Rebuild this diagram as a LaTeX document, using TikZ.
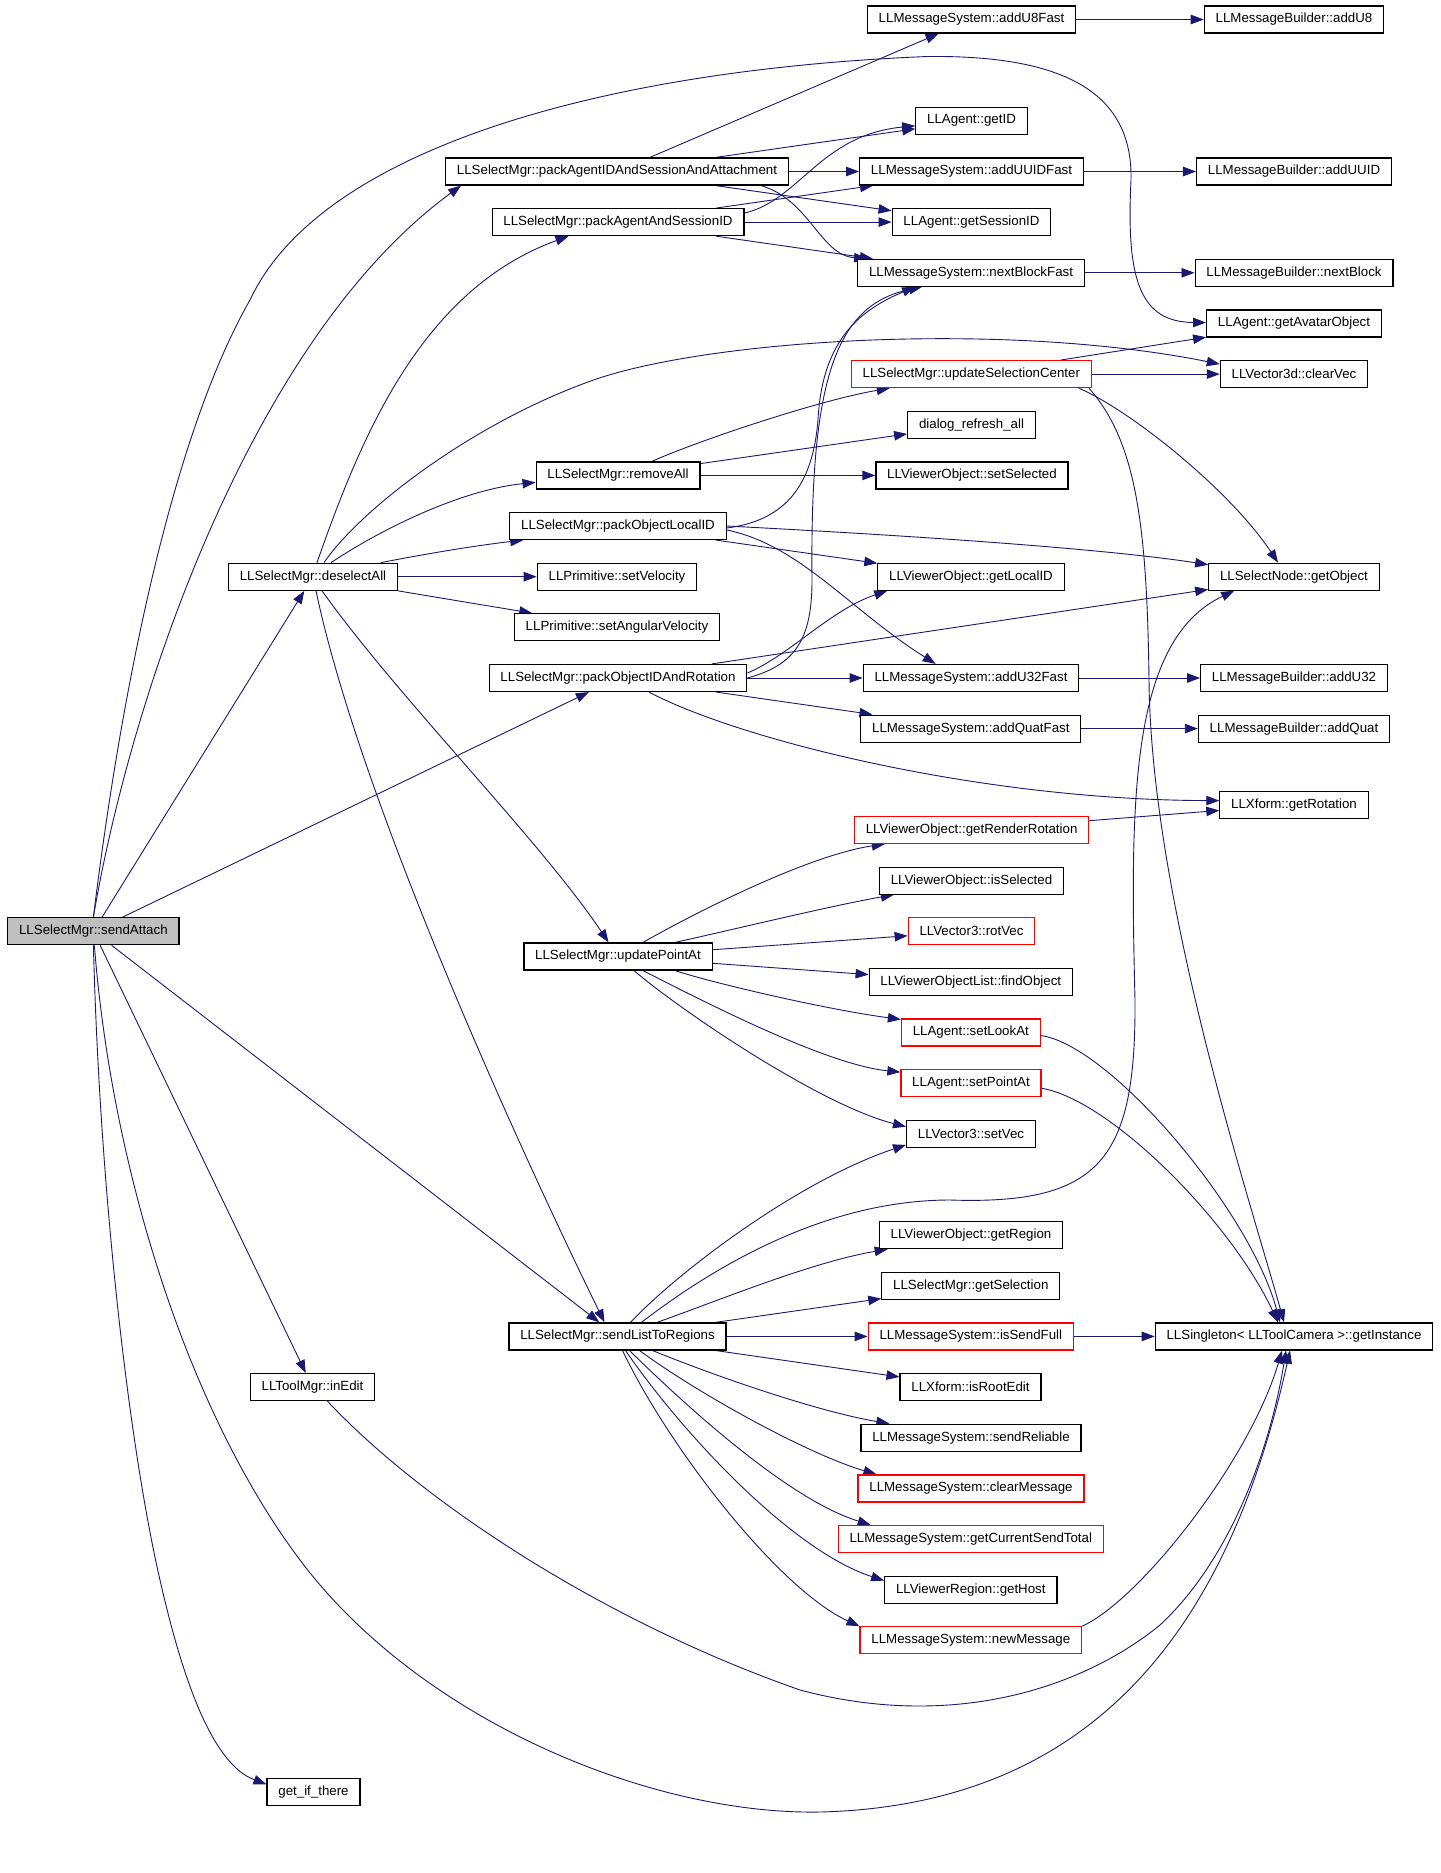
\documentclass[tikz,border=0pt]{standalone}
\usepackage{fontspec}
\usepackage{tikz}
\usetikzlibrary{arrows.meta}
\pgfdeclarelayer{background}
\pgfsetlayers{background,main}
\newfontfamily\callfont{Liberation Sans}
\definecolor{edgeblue}{HTML}{191970}
\definecolor{rootgray}{HTML}{BFBFBF}
\tikzset{
  fn/.style={draw=black, fill=white, line width=1.2pt, font=\callfont\fontsize{13.3}{16}\selectfont, minimum height=27pt, inner xsep=11.3pt, inner ysep=0pt},
  hot/.style={draw=red},
  root/.style={fill=rootgray},
  call/.style={draw=edgeblue, line width=0.9pt, -{Triangle[length=13pt,width=9.5pt]}}
}
\begin{document}
\begin{tikzpicture}[x=1pt,y=-1pt]
\useasboundingbox (0,0) rectangle (1440,1873);
\node[fn,root] (sendAttach) at (93.4,931.2) {LLSelectMgr::sendAttach};
\node[fn] (deselectAll) at (313,576.7) {LLSelectMgr::deselectAll};
\node[fn] (inEdit) at (312.5,1387.1) {LLToolMgr::inEdit};
\node[fn] (getIfThere) at (313.5,1792.3) {get\_if\_there};
\node[fn] (packAgentIDSA) at (617,171.5) {LLSelectMgr::packAgentIDAndSessionAndAttachment};
\node[fn] (packAgentSID) at (618,222.1) {LLSelectMgr::packAgentAndSessionID};
\node[fn] (removeAll) at (618,475.4) {LLSelectMgr::removeAll};
\node[fn] (packLocalID) at (618,526) {LLSelectMgr::packObjectLocalID};
\node[fn] (setVelocity) at (617,576.7) {LLPrimitive::setVelocity};
\node[fn] (setAngVel) at (617,627.3) {LLPrimitive::setAngularVelocity};
\node[fn] (packIDRot) at (618,678) {LLSelectMgr::packObjectIDAndRotation};
\node[fn] (updatePointAt) at (618,956.5) {LLSelectMgr::updatePointAt};
\node[fn] (sendList) at (617.5,1336.4) {LLSelectMgr::sendListToRegions};
\node[fn] (addU8Fast) at (971.5,19.5) {LLMessageSystem::addU8Fast};
\node[fn] (getID) at (971.5,120.8) {LLAgent::getID};
\node[fn] (addUUIDFast) at (971.5,171.5) {LLMessageSystem::addUUIDFast};
\node[fn] (getSessionID) at (971.5,222.1) {LLAgent::getSessionID};
\node[fn] (nextBlockFast) at (971,272.8) {LLMessageSystem::nextBlockFast};
\node[fn,hot] (updSelCenter) at (971.3,374.1) {LLSelectMgr::updateSelectionCenter};
\node[fn] (dialogRefresh) at (971.5,424.7) {dialog\_refresh\_all};
\node[fn] (setSelected) at (972,475.4) {LLViewerObject::setSelected};
\node[fn] (getLocalID) at (971,576.7) {LLViewerObject::getLocalID};
\node[fn] (addU32Fast) at (971,678) {LLMessageSystem::addU32Fast};
\node[fn] (addQuatFast) at (970.8,728.6) {LLMessageSystem::addQuatFast};
\node[fn,hot] (getRenderRot) at (971.6,829.9) {LLViewerObject::getRenderRotation};
\node[fn] (isSelected) at (971.5,880.6) {LLViewerObject::isSelected};
\node[fn,hot] (rotVec) at (971.5,931.2) {LLVector3::rotVec};
\node[fn] (findObject) at (970.8,981.9) {LLViewerObjectList::findObject};
\node[fn,hot] (setLookAt) at (970.8,1032.5) {LLAgent::setLookAt};
\node[fn,hot] (setPointAt) at (971,1083.2) {LLAgent::setPointAt};
\node[fn] (setVec) at (971,1133.8) {LLVector3::setVec};
\node[fn] (getRegion) at (971,1235.1) {LLViewerObject::getRegion};
\node[fn] (getSelection) at (970.8,1285.8) {LLSelectMgr::getSelection};
\node[fn,hot] (isSendFull) at (970.8,1336.4) {LLMessageSystem::isSendFull};
\node[fn] (isRootEdit) at (970.5,1387.1) {LLXform::isRootEdit};
\node[fn] (sendReliable) at (971,1437.7) {LLMessageSystem::sendReliable};
\node[fn,hot] (clearMessage) at (971,1488.4) {LLMessageSystem::clearMessage};
\node[fn,hot] (getSendTotal) at (970.8,1539) {LLMessageSystem::getCurrentSendTotal};
\node[fn] (getHost) at (970.8,1589.7) {LLViewerRegion::getHost};
\node[fn,hot] (newMessage) at (970.8,1640.3) {LLMessageSystem::newMessage};
\node[fn] (addU8) at (1294,19.5) {LLMessageBuilder::addU8};
\node[fn] (addUUID) at (1294,171.5) {LLMessageBuilder::addUUID};
\node[fn] (nextBlock) at (1294,272.8) {LLMessageBuilder::nextBlock};
\node[fn] (getAvatarObject) at (1294,323.4) {LLAgent::getAvatarObject};
\node[fn] (clearVec) at (1294,374.1) {LLVector3d::clearVec};
\node[fn] (getObject) at (1294,576.7) {LLSelectNode::getObject};
\node[fn] (addU32) at (1294,678) {LLMessageBuilder::addU32};
\node[fn] (addQuat) at (1294,728.6) {LLMessageBuilder::addQuat};
\node[fn] (getRotation) at (1294,804.6) {LLXform::getRotation};
\node[fn] (getInstance) at (1294,1336.4) {LLSingleton< LLToolCamera >::getInstance};
\begin{pgfonlayer}{background}
\draw[call] (sendAttach) -- (deselectAll);
\draw[call] (sendAttach) -- (packIDRot);
\draw[call] (sendAttach) -- (sendList);
\draw[call] (sendAttach) -- (inEdit);
\draw[call] (sendAttach.north) .. controls (130,700) and (250,340) .. ([xshift=16pt]packAgentIDSA.south west);
\draw[call] (sendAttach.north) .. controls (120,700) and (170,440) .. (250,300) .. controls (320,150) and (600,70) .. (927,56.5) .. controls (1060,55) and (1133,90) .. (1131,180) .. controls (1126,280) and (1140,322) .. (getAvatarObject);
\draw[call] (sendAttach.south) .. controls (100,1200) and (130,1450) .. (160,1580) .. controls (185,1690) and (215,1765) .. ([yshift=8pt]getIfThere.west);
\draw[call] ([xshift=1pt]sendAttach.south) .. controls (110,1150) and (180,1400) .. (300,1560) .. controls (420,1720) and (650,1815) .. (820,1812) .. controls (1100,1805) and (1230,1620) .. ([xshift=-4pt]getInstance.south);
\draw[call] ([xshift=4pt]deselectAll.north) .. controls (360,440) and (420,290) .. ([xshift=77pt]packAgentSID.south west);
\draw[call] ([xshift=11pt]deselectAll.north) .. controls (360,510) and (470,425) .. (588,382) .. controls (700,340) and (1000,320) .. ([yshift=10pt]clearVec.west);
\draw[call] ([xshift=18pt]deselectAll.north) .. controls (380,530) and (460,490) .. ([yshift=-7pt]removeAll.west);
\draw[call] ([xshift=68pt]deselectAll.north) .. controls (430,553) and (480,545) .. ([xshift=14pt]packLocalID.south west);
\draw[call] (deselectAll) -- (setVelocity);
\draw[call] (deselectAll) -- (setAngVel);
\draw[call] ([xshift=9pt]deselectAll.south) .. controls (400,700) and (540,840) .. (updatePointAt);
\draw[call] ([xshift=3pt]deselectAll.south) .. controls (360,800) and (520,1150) .. ([xshift=-13pt]sendList.north);
\draw[call] (packAgentIDSA) -- (addU8Fast);
\draw[call] (packAgentIDSA) -- (getID);
\draw[call] (packAgentIDSA) -- (addUUIDFast);
\draw[call] (packAgentIDSA) -- (getSessionID);
\draw[call] ([xshift=-28pt]packAgentIDSA.south east) .. controls (810,200) and (820,255) .. ([xshift=10pt]nextBlockFast.north west);
\draw[call] ([yshift=9pt]packAgentSID.east) .. controls (800,200) and (820,135) .. ([yshift=-5pt]getID.west);
\draw[call] (packAgentSID) -- (addUUIDFast);
\draw[call] (packAgentSID) -- (getSessionID);
\draw[call] (packAgentSID) -- (nextBlockFast);
\draw[call] ([xshift=34pt]removeAll.north) .. controls (700,440) and (820,400) .. ([xshift=39pt]updSelCenter.south west);
\draw[call] (removeAll) -- (dialogRefresh);
\draw[call] (removeAll) -- (setSelected);
\draw[call] (updSelCenter) -- (getAvatarObject);
\draw[call] (updSelCenter) -- (clearVec);
\draw[call] ([xshift=-13pt]updSelCenter.south east) .. controls (1130,410) and (1230,490) .. ([xshift=-16pt]getObject.north);
\draw[call] ([xshift=-3pt]updSelCenter.south east) .. controls (1135,440) and (1147,520) .. (1149,680) .. controls (1151,900) and (1250,1200) .. ([xshift=-10pt]getInstance.north);
\draw[call] ([yshift=-2pt]packLocalID.east) .. controls (790,520) and (813,480) .. (818,420) .. controls (822,340) and (860,310) .. ([xshift=58pt]nextBlockFast.south west);
\draw[call] (packLocalID.east) .. controls (900,535) and (1100,548) .. ([yshift=12pt]getObject.west);
\draw[call] (packLocalID) -- (getLocalID);
\draw[call] ([yshift=-4pt]packLocalID.east) .. controls (800,545) and (850,610) .. ([xshift=73pt]addU32Fast.north west);
\draw[call] (packIDRot.east) .. controls (795,665) and (812,640) .. (812,580) .. controls (810,380) and (835,305) .. ([xshift=65pt]nextBlockFast.south west);
\draw[call] ([yshift=5pt]packIDRot.east) .. controls (790,655) and (830,610) .. ([xshift=10pt]getLocalID.south west);
\draw[call] (packIDRot) -- (getObject);
\draw[call] (packIDRot) -- (addU32Fast);
\draw[call] (packIDRot) -- (addQuatFast);
\draw[call] ([xshift=31pt]packIDRot.south) .. controls (740,740) and (980,800) .. ([yshift=4pt]getRotation.west);
\draw[call] (addU8Fast) -- (addU8);
\draw[call] (addUUIDFast) -- (addUUID);
\draw[call] (nextBlockFast) -- (nextBlock);
\draw[call] (addU32Fast) -- (addU32);
\draw[call] (addQuatFast) -- (addQuat);
\draw[call] (getRenderRot) -- (getRotation);
\draw[call] ([xshift=25pt]updatePointAt.north) .. controls (700,910) and (810,855) .. ([xshift=31pt]getRenderRot.south west);
\draw[call] ([xshift=57pt]updatePointAt.north) .. controls (740,928) and (830,906) .. ([xshift=15pt]isSelected.south west);
\draw[call] (updatePointAt) -- (rotVec);
\draw[call] (updatePointAt) -- (findObject);
\draw[call] ([xshift=57pt]updatePointAt.south) .. controls (720,985) and (830,1010) .. ([yshift=-1pt]setLookAt.north west);
\draw[call] ([xshift=25pt]updatePointAt.south) .. controls (720,1010) and (830,1065) .. ([yshift=-3pt]setPointAt.north west);
\draw[call] ([xshift=16pt]updatePointAt.south) .. controls (680,1010) and (820,1105) .. ([yshift=-7pt]setVec.north west);
\draw[call] ([yshift=-3pt]setLookAt.east) .. controls (1110,1045) and (1250,1210) .. ([xshift=-14pt]getInstance.north);
\draw[call] ([yshift=-5pt]setPointAt.east) .. controls (1110,1100) and (1230,1220) .. ([xshift=-16pt]getInstance.north);
\draw[call] ([xshift=13pt]sendList.north) .. controls (680,1270) and (800,1180) .. ([yshift=3pt]setVec.south west);
\draw[call] ([xshift=24pt]sendList.north) .. controls (720,1262) and (830,1200) .. (950,1200) .. controls (1100,1205) and (1136,1160) .. (1135,1000) .. controls (1130,800) and (1130,640) .. ([xshift=26pt]getObject.south west);
\draw[call] (sendList) .. controls (720,1300) and (812,1262) .. (getRegion);
\draw[call] (sendList) -- (getSelection);
\draw[call] (sendList) -- (isSendFull);
\draw[call] (sendList) -- (isRootEdit);
\draw[call] ([xshift=35pt]sendList.south) .. controls (720,1378) and (820,1412) .. ([xshift=29pt]sendReliable.north west);
\draw[call] ([xshift=22pt]sendList.south) .. controls (700,1395) and (810,1455) .. ([xshift=19pt]clearMessage.north west);
\draw[call] ([xshift=12pt]sendList.south) .. controls (690,1410) and (790,1500) .. ([xshift=33pt]getSendTotal.north west);
\draw[call] ([xshift=8pt]sendList.south) .. controls (680,1430) and (790,1550) .. ([yshift=-5pt]getHost.north west);
\draw[call] ([xshift=5pt]sendList.south) .. controls (670,1450) and (780,1590) .. (newMessage.north west);
\draw[call] (isSendFull) -- (getInstance);
\draw[call] (newMessage.north east) .. controls (1140,1600) and (1250,1460) .. ([xshift=-12pt]getInstance.south);
\draw[call] ([xshift=15pt]inEdit.south) .. controls (420,1500) and (600,1620) .. (800,1690) .. controls (950,1730) and (1080,1690) .. (1160,1625) .. controls (1230,1560) and (1270,1450) .. ([xshift=-8pt]getInstance.south);
\end{pgfonlayer}
\end{tikzpicture}
\end{document}
